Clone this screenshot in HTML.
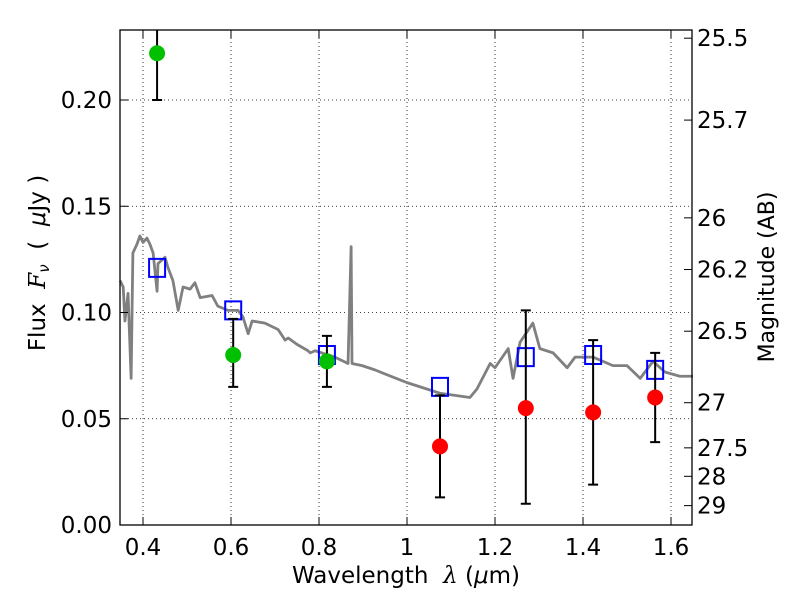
<!DOCTYPE html>
<html><head><meta charset="utf-8"><style>
body{margin:0;background:#fff}
svg{display:block;font-family:"DejaVu Sans","Liberation Sans",sans-serif}
</style></head><body>
<svg id="c" width="800" height="600" viewBox="0 0 800 600">
<rect x="0" y="0" width="800" height="600" fill="#fff"/>
<g id="grid"></g>
<g id="spec"></g>
<g id="marks"></g>
<rect x="120" y="30" width="572" height="495" fill="none" stroke="#000" stroke-width="1.3"/>
<g id="axes"></g>
<text x="406" y="583" font-size="23" text-anchor="middle">Wavelength&#160;&#160;<tspan font-style="italic" font-family="DejaVu Serif">λ</tspan>&#160;(<tspan font-style="italic">μ</tspan>m)</text>
<text transform="translate(45,263) rotate(-90)" font-size="23" text-anchor="middle">Flux&#160;&#160;<tspan font-style="italic" font-family="DejaVu Serif">F</tspan><tspan font-style="italic" font-size="15" dy="4">ν</tspan><tspan dy="-4">&#160;&#160;(&#160;&#160;</tspan><tspan font-style="italic">μ</tspan>Jy&#160;)</text>
<text transform="translate(774,277) rotate(-90)" font-size="22" text-anchor="middle">Magnitude (AB)</text>
</svg>
<script>
const xTicks=[0.4,0.6,0.8,1.0,1.2,1.4,1.6];
const xTickLabels=["0.4","0.6","0.8","1","1.2","1.4","1.6"];
const yTicks=[0,0.05,0.10,0.15,0.20];
const yTickLabels=["0.00","0.05","0.10","0.15","0.20"];
const magTicks=[25.5,25.7,26,26.2,26.5,27,27.5,28,29];
const magLabels=["25.5","25.7","26","26.2","26.5","27","27.5","28","29"];
const specWave=[0.348,0.355,0.359,0.366,0.373,0.377,0.386,0.393,0.400,0.409,0.416,0.423,0.432,0.434,0.450,0.457,0.468,0.480,0.491,0.507,0.518,0.530,0.557,0.570,0.593,0.616,0.627,0.639,0.648,0.677,0.707,0.723,0.730,0.750,0.775,0.780,0.791,0.836,0.866,0.873,0.875,0.898,0.927,0.939,1.000,1.075,1.143,1.159,1.189,1.200,1.230,1.241,1.257,1.286,1.302,1.332,1.364,1.382,1.423,1.468,1.500,1.530,1.559,1.586,1.620,1.650];
const specFlux=[0.115,0.112,0.096,0.109,0.069,0.128,0.132,0.136,0.133,0.135,0.132,0.128,0.110,0.123,0.126,0.121,0.115,0.101,0.112,0.111,0.114,0.107,0.108,0.103,0.101,0.101,0.098,0.090,0.096,0.095,0.092,0.087,0.088,0.085,0.082,0.081,0.082,0.079,0.076,0.131,0.076,0.075,0.073,0.072,0.067,0.062,0.060,0.064,0.076,0.074,0.083,0.069,0.086,0.095,0.083,0.081,0.074,0.079,0.079,0.075,0.075,0.069,0.077,0.072,0.070,0.070];
const greenWave=[0.432,0.605,0.818];
const greenFlux=[0.222,0.080,0.077];
const greenLo=[0.200,0.065,0.065];
const greenHi=[0.240,0.097,0.089];
const redWave=[1.075,1.270,1.423,1.564];
const redFlux=[0.037,0.055,0.053,0.060];
const redLo=[0.013,0.010,0.019,0.039];
const redHi=[0.061,0.101,0.087,0.081];
const modelWave=[0.432,0.605,0.818,1.075,1.270,1.423,1.564];
const modelFlux=[0.121,0.101,0.080,0.065,0.079,0.080,0.073];

const NS="http://www.w3.org/2000/svg";
const X=v=>121+(v-0.35)*440;
const Y=v=>525-v*2125;
const Ytop=30;
function mk(tag,attrs,parent){const e=document.createElementNS(NS,tag);for(const k in attrs)e.setAttribute(k,attrs[k]);document.getElementById(parent).appendChild(e);return e;}
xTicks.forEach((t,i)=>{
 const g=mk('line',{x1:X(t),x2:X(t),y1:30,y2:525,stroke:'#000','stroke-dasharray':'1,3','stroke-width':0.8},'grid');
 
 
 mk('line',{x1:X(t),x2:X(t),y1:525,y2:517,stroke:'#000'},'axes');
 mk('line',{x1:X(t),x2:X(t),y1:30,y2:38,stroke:'#000'},'axes');
 const tx=mk('text',{x:X(t),y:555,'font-size':23,'text-anchor':'middle'},'axes');
 tx.textContent=xTickLabels[i];
 
 
});
yTicks.forEach((t,i)=>{
 const g=mk('line',{x1:120,x2:692,y1:Y(t),y2:Y(t),stroke:'#000','stroke-dasharray':'1,3','stroke-width':0.8},'grid');
 
 
 mk('line',{x1:120,x2:128,y1:Y(t),y2:Y(t),stroke:'#000'},'axes');
 const tx=mk('text',{x:112,y:Y(t)+8,'font-size':23,'text-anchor':'end'},'axes');
 tx.textContent=yTickLabels[i];
 
 
});
magTicks.forEach((m,i)=>{
 const f=Math.pow(10,(23.9-m)/2.5);const y=Y(f);
 mk('line',{x1:684,x2:692,y1:y,y2:y,stroke:'#000'},'axes');
 const tx=mk('text',{x:697,y:y+8,'font-size':23},'axes');
 tx.textContent=magLabels[i];
 
 
});
const sp=mk('polyline',{points:specWave.map((w,i)=>X(w)+','+Y(specFlux[i])).join(' '),fill:'none',stroke:'#808080','stroke-width':2.8,'stroke-linejoin':'round'},'spec');


modelWave.forEach((w,i)=>{
 const r=mk('rect',{x:X(w)-8,y:Y(modelFlux[i])-9,width:16,height:18,fill:'none',stroke:'#0000ff','stroke-width':2},'marks');
 
 
});
function pts(ws,fs,lo,hi,col,name){
 ws.forEach((w,i)=>{
  const x=X(w);
  const y1=Math.max(Y(hi[i]),Ytop);
  const e=mk('line',{x1:x,x2:x,y1:Y(lo[i]),y2:y1,stroke:'#000','stroke-width':2},'marks');
  
  
  mk('line',{x1:x-5,x2:x+5,y1:Y(lo[i]),y2:Y(lo[i]),stroke:'#000','stroke-width':2},'marks');
  if(Y(hi[i])>Ytop)mk('line',{x1:x-5,x2:x+5,y1:Y(hi[i]),y2:Y(hi[i]),stroke:'#000','stroke-width':2},'marks');
  const c=mk('circle',{cx:x,cy:Y(fs[i]),r:8,fill:col},'marks');
  
  
 });
}
pts(greenWave,greenFlux,greenLo,greenHi,'#00c000','detection-point');
pts(redWave,redFlux,redLo,redHi,'#ff0000','upper-limit-point');
</script>
</body></html>
